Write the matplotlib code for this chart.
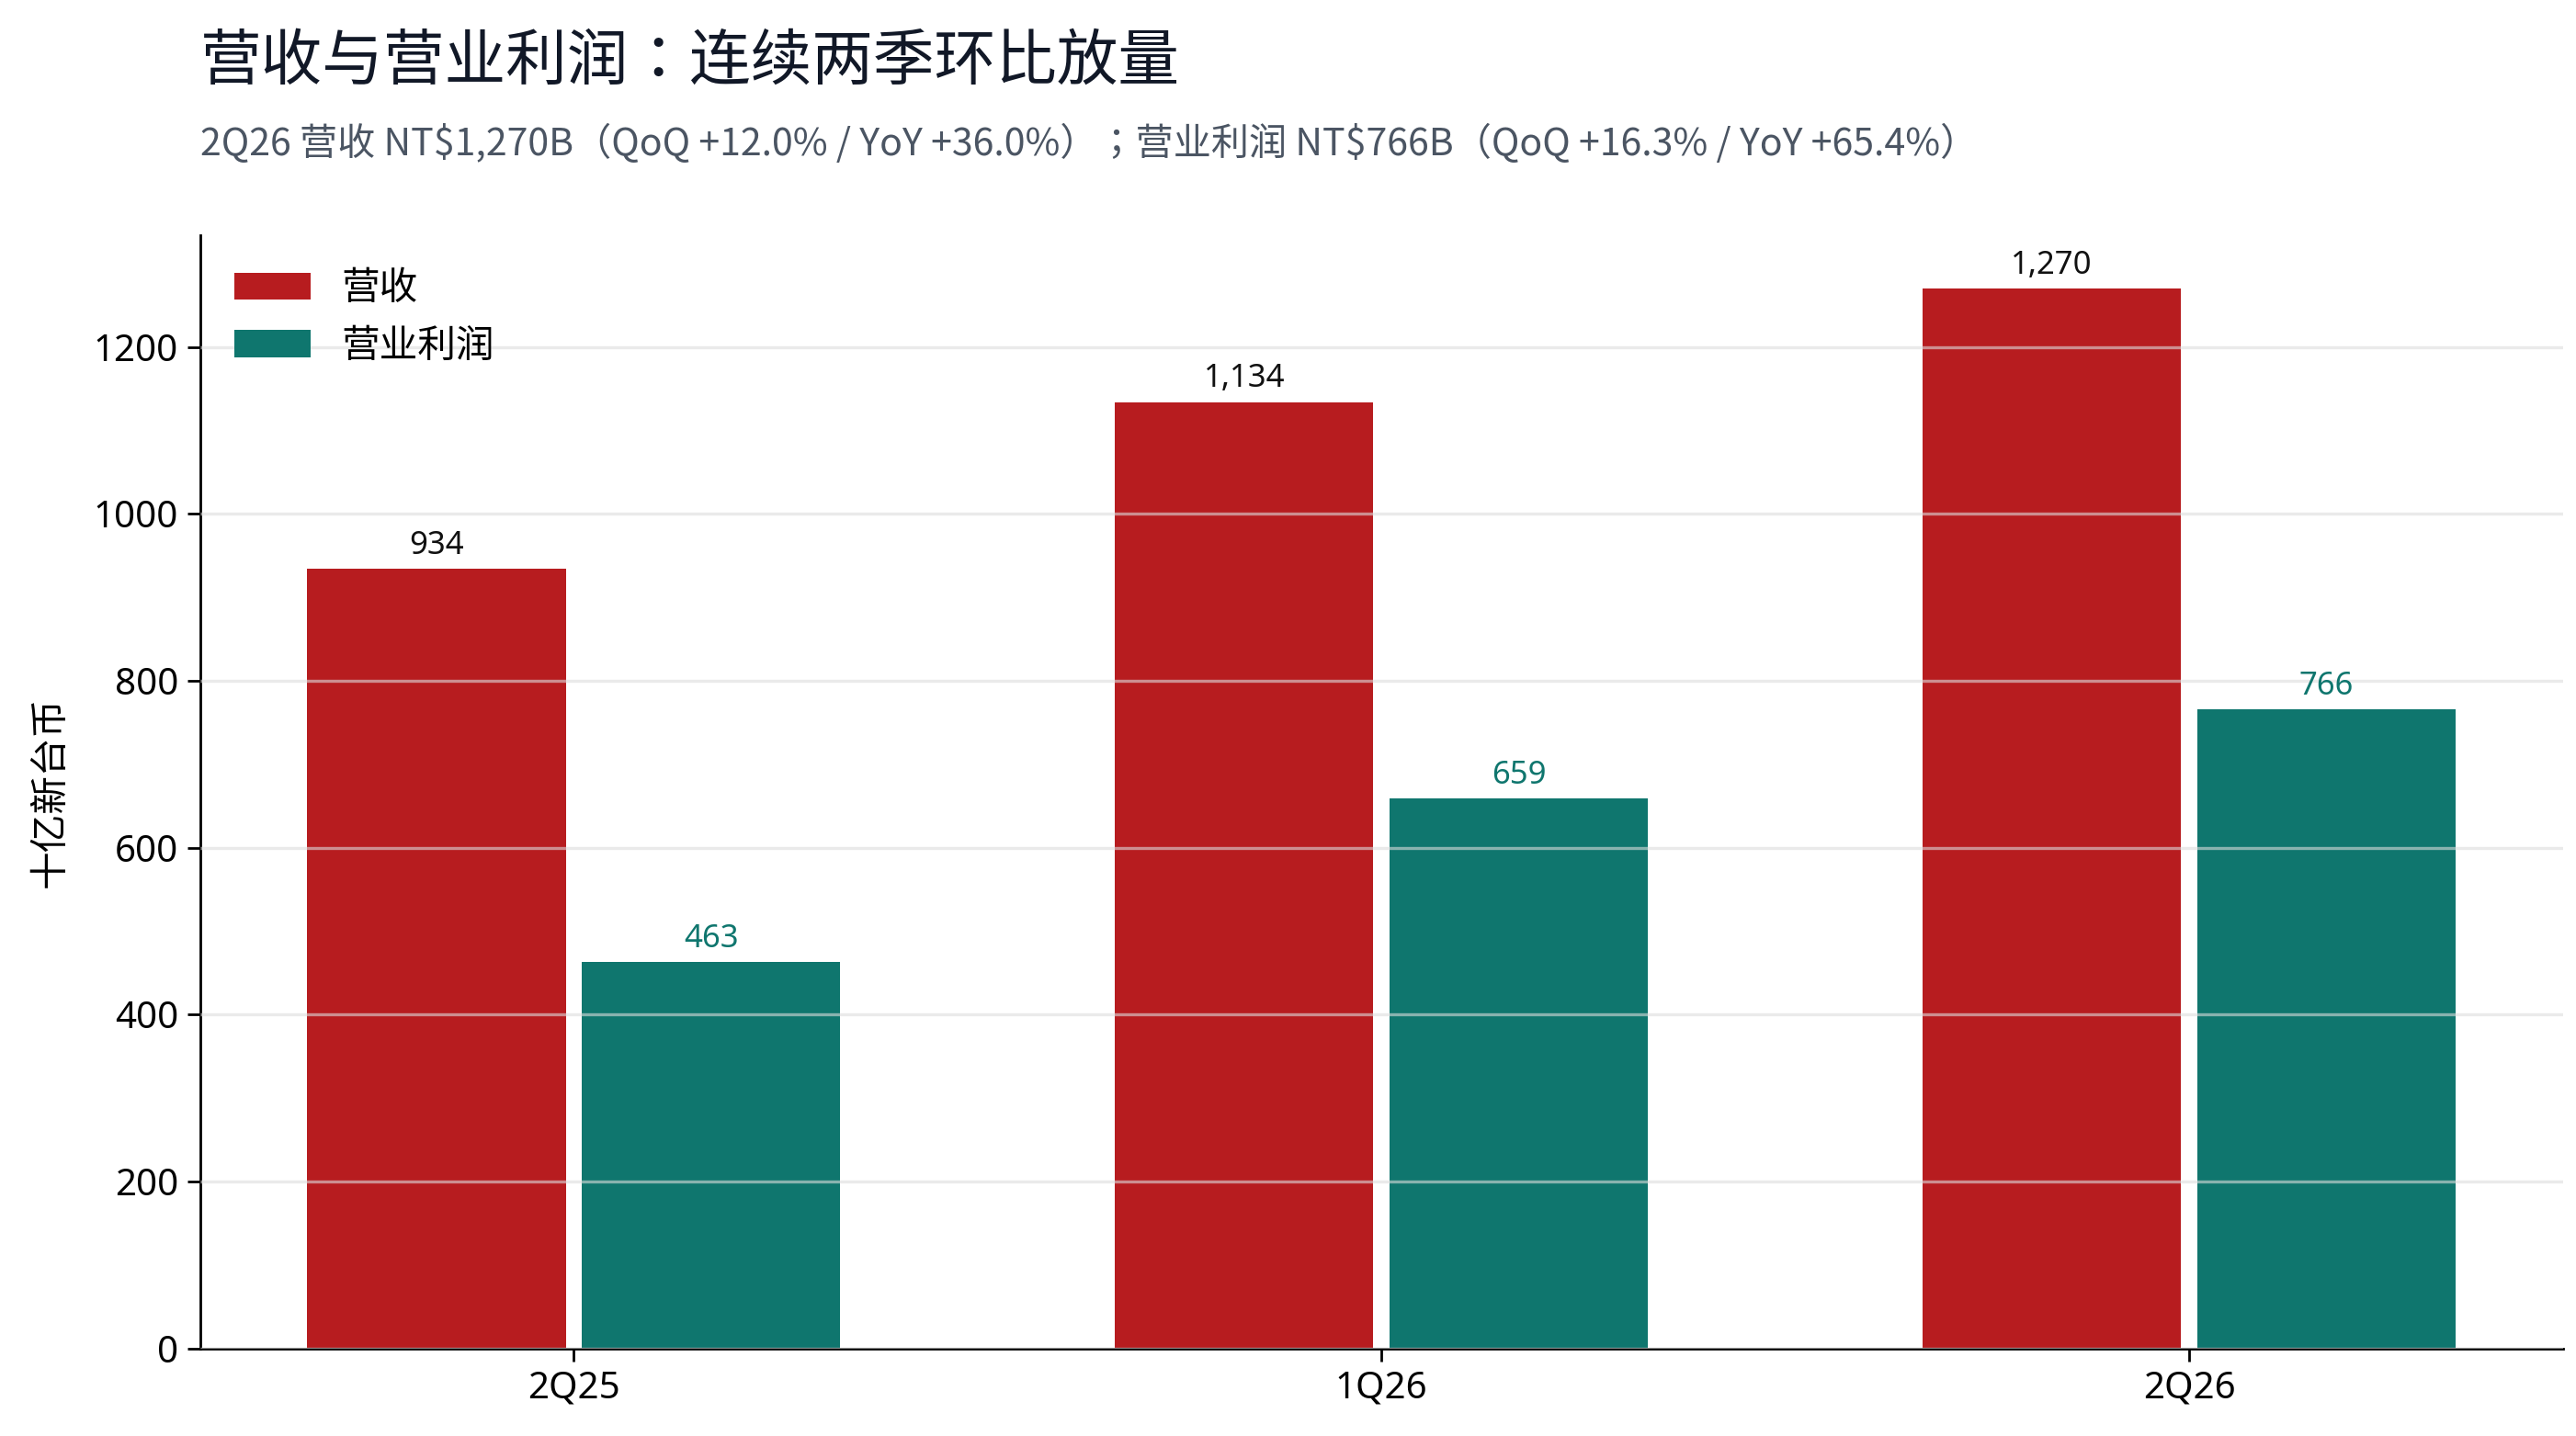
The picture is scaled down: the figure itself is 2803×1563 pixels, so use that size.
import matplotlib
matplotlib.use("Agg")
import matplotlib.pyplot as plt
import numpy as np

plt.rcParams['font.family'] = ['Noto Sans', 'Noto Sans CJK TC', 'DejaVu Sans']

quarters = ["2Q25", "1Q26", "2Q26"]
revenue = [934, 1134, 1270]
op_profit = [463, 659, 766]
series_names = ["营收", "营业利润"]
title = "营收与营业利润：连续两季环比放量"
subtitle = "2Q26 营收 NT\\$1,270B（QoQ +12.0% / YoY +36.0%）；营业利润 NT\\$766B（QoQ +16.3% / YoY +65.4%）"
ylabel = "十亿新台币"

RED = "#b71c1f"
TEAL = "#0f766e"

fig = plt.figure(figsize=(14.015, 7.815), dpi=200)
ax = fig.add_axes([0.0776, 0.061, 0.9174, 0.775])

x = np.arange(len(quarters))
w = 0.32
off = 0.17
b1 = ax.bar(x - off, revenue, w, color=RED, label=series_names[0], zorder=2)
b2 = ax.bar(x + off, op_profit, w, color=TEAL, label=series_names[1], zorder=2)

for rect, v in zip(b1, revenue):
    ax.annotate(f"{v:,}", (rect.get_x() + rect.get_width() / 2, rect.get_height()),
                xytext=(0, 3), textcoords="offset points", ha="center", va="bottom",
                fontsize=12.5, color="#111111")
for rect, v in zip(b2, op_profit):
    ax.annotate(f"{v:,}", (rect.get_x() + rect.get_width() / 2, rect.get_height()),
                xytext=(0, 3), textcoords="offset points", ha="center", va="bottom",
                fontsize=12.5, color=TEAL)

ax.set_ylim(0, max(revenue) * 1.05)
ax.set_xticks(x)
ax.set_xticklabels(quarters)
ax.tick_params(axis="both", labelsize=14.5, length=5, width=1.0)
ax.set_ylabel(ylabel, fontsize=15, labelpad=9)
ax.yaxis.grid(True, color="#dcdcdc", linewidth=1.2, alpha=0.6, zorder=3)
ax.set_axisbelow(False)
for s in ["top", "right"]:
    ax.spines[s].set_visible(False)
for s in ["left", "bottom"]:
    ax.spines[s].set_linewidth(1.0)

ax.legend(loc="upper left", frameon=False, fontsize=15, borderaxespad=0.5)

fig.text(0.0776, 0.956, title, fontsize=24, color="#111827", ha="left", va="center")
fig.text(0.0776, 0.900, subtitle, fontsize=14.8, color="#4b5563", ha="left", va="center",
         family=['Noto Sans CJK TC', 'DejaVu Sans'])

fig.savefig("out.png", dpi=200)
